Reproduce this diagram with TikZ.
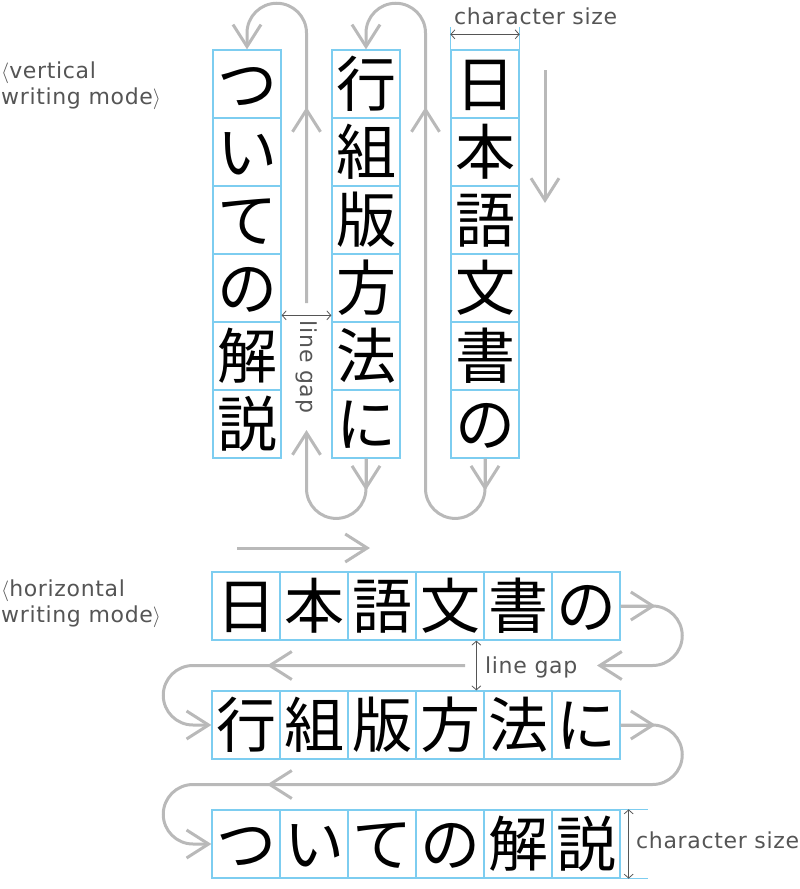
\documentclass[tikz,border=0pt]{standalone}
\usepackage{fontspec}
\setmainfont{DejaVu Sans}[LetterSpace=3]
\newfontfamily\jpfont{Noto Sans CJK JP}
\usetikzlibrary{arrows.meta}
\definecolor{cellblue}{RGB}{125,205,240}
\definecolor{flowgray}{RGB}{185,185,185}
\definecolor{notegray}{RGB}{85,85,85}

\begin{document}
\begin{tikzpicture}
	[x=1pt,y=-1pt,
	 cell/.style={draw=cellblue,line width=1.3pt,minimum size=68pt,inner sep=0pt,
	   text height=52.8pt,text depth=7.2pt,font=\jpfont\fontsize{60}{60}\selectfont},
	 cellline/.style={draw=cellblue,line width=1.3pt},
	 flow/.style={draw=flowgray,line width=3pt,-{Straight Barb[length=22pt,width=28pt]}},
	 dim/.style={draw=notegray,line width=0.8pt,
	   {Straight Barb[length=4pt,width=9pt]}-{Straight Barb[length=4pt,width=9pt]}},
	 note/.style={text=notegray,inner sep=0pt,font=\fontsize{22}{26}\selectfont}]
    \useasboundingbox (0,0) rectangle (800,889);
    % vertical writing mode
    \foreach \c [count=\i] in {日,本,語,文,書,の}
      \node[cell] (v3-\i) at (485,16+68*\i) {\c};
    \foreach \c [count=\i] in {行,組,版,方,法,に}
      \node[cell] (v2-\i) at (366,16+68*\i) {\c};
    \foreach \c [count=\i] in {つ,い,て,の,解,説}
      \node[cell] (v1-\i) at (247,16+68*\i) {\c};
    \node[note,anchor=west,align=left] (vmode) at (1,85.5) {$\big\langle$vertical\\writing mode$\big\rangle$};
    \draw[cellline] (v3-1.north west) -- ++(0,-22);
    \draw[cellline] (v3-1.north east) -- ++(0,-22);
    \draw[dim] ([yshift=15pt]v3-1.north west) -- ([yshift=15pt]v3-1.north east);
    \node[note,anchor=base west] (vsize) at (454,24) {character size};
    \draw[dim] ([yshift=6pt]v1-5.north east) -- ([yshift=6pt]v2-5.north west);
    \node[note,rotate=-90] (vgap) at (307,367) {line gap};
    \coordinate (vdir1) at (545,70);
    \coordinate (vdir2) at (545,203);
    \draw[flow] (vdir1) -- (vdir2);
    \draw[flow] (v3-6.south) -- ++(0,30) arc[start angle=0,end angle=180,radius=29.75]
      -- (425.5,33) arc[start angle=0,end angle=-180,radius=29.75] -- (v2-1.north);
    \draw[flow] (v3-6.south) -- ++(0,32);
    \draw[flow] (425.5,140) -- (425.5,107);
    \draw[flow] (v2-6.south) -- ++(0,30) arc[start angle=0,end angle=180,radius=29.75] -- (306.5,430);
    \draw[flow] (306.5,303) -- (306.5,33) arc[start angle=0,end angle=-180,radius=29.75] -- (v1-1.north);
    \draw[flow] (v2-6.south) -- ++(0,32);
    \draw[flow] (306.5,140) -- (306.5,107);
    % horizontal writing mode
    \foreach \c [count=\i] in {日,本,語,文,書,の}
      \node[cell] (h1-\i) at (178+68*\i,606) {\c};
    \foreach \c [count=\i] in {行,組,版,方,法,に}
      \node[cell] (h2-\i) at (178+68*\i,725) {\c};
    \foreach \c [count=\i] in {つ,い,て,の,解,説}
      \node[cell] (h3-\i) at (178+68*\i,844) {\c};
    \node[note,anchor=west,align=left] (hmode) at (1,604) {$\big\langle$horizontal\\writing mode$\big\rangle$};
    \draw[cellline] (h3-6.north east) -- ++(27,0);
    \draw[cellline] (h3-6.south east) -- ++(27,0);
    \draw[dim] ([xshift=8pt]h3-6.north east) -- ([xshift=8pt]h3-6.south east);
    \node[note,anchor=base west] (hsize) at (636,848) {character size};
    \draw[dim] ([xshift=-7pt]h1-5.south west) -- ([xshift=-7pt]h2-5.north west);
    \node[note,anchor=base west] (hgap) at (485,673) {line gap};
    \coordinate (hdir1) at (237,548);
    \coordinate (hdir2) at (370,548);
    \draw[flow] (hdir1) -- (hdir2);
    \draw[flow] (h1-6.east) -- (652.5,606) arc[start angle=-90,end angle=90,radius=29.75] -- (597,665.5);
    \draw[flow] (465,665.5) -- (193,665.5) arc[start angle=-90,end angle=-270,radius=29.75] -- (h2-1.west);
    \draw[flow] (h1-6.east) -- ++(35,0);
    \draw[flow] (300,665.5) -- (267,665.5);
    \draw[flow] (h2-6.east) -- (652.5,725) arc[start angle=-90,end angle=90,radius=29.75]
      -- (193,784.5) arc[start angle=-90,end angle=-270,radius=29.75] -- (h3-1.west);
    \draw[flow] (h2-6.east) -- ++(35,0);
    \draw[flow] (300,784.5) -- (267,784.5);
\end{tikzpicture}
\end{document}
